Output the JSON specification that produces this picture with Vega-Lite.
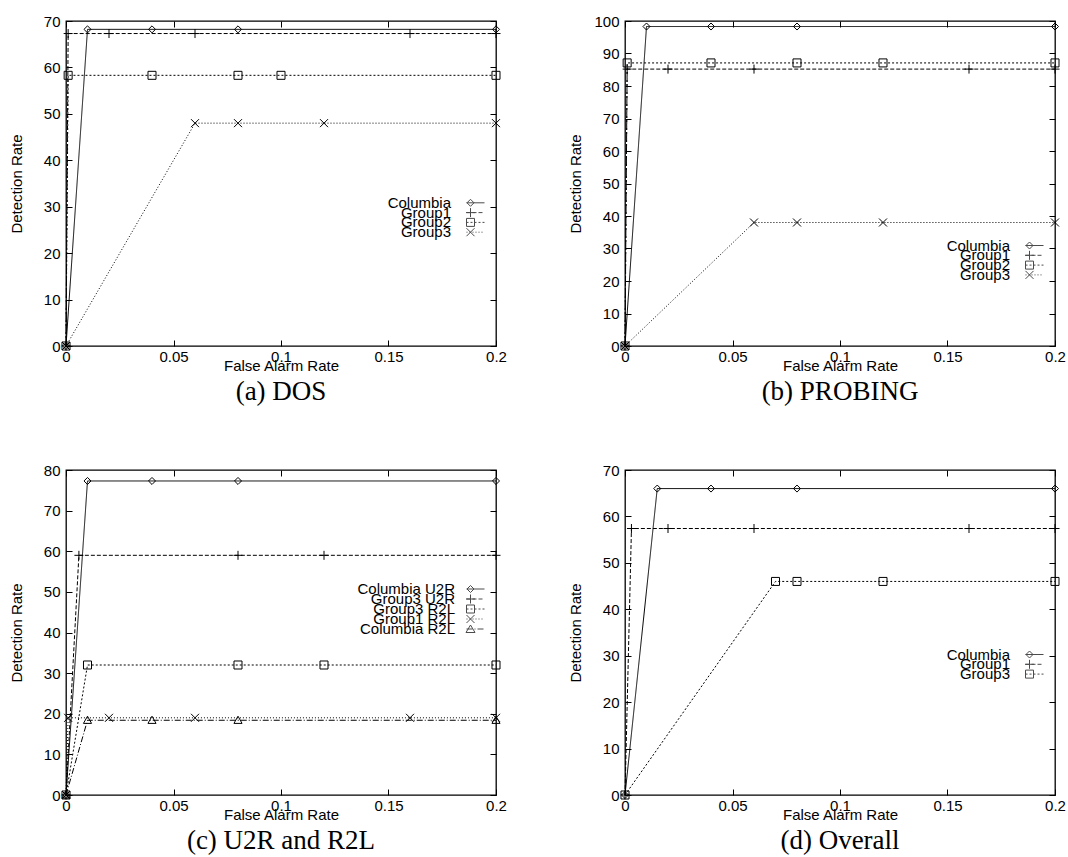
{
  "$schema": "https://vega.github.io/schema/vega-lite/v6.json",
  "background": "white",
  "padding": {"left": 8, "top": 13, "right": 2, "bottom": 2},
  "config": {
    "view": {"stroke": "black", "strokeWidth": 1.3},
    "axis": {"grid": false, "domain": false, "tickSize": -6, "tickColor": "black", "tickWidth": 1,
      "labelFont": "Liberation Sans", "labelFontSize": 15, "labelColor": "black", "labelFlush": false, "labelOverlap": false,
      "titleFont": "Liberation Sans", "titleFontSize": 15, "titleFontWeight": "normal", "titleColor": "black"},
    "axisBottom": {"labelPadding": 9, "titleX": 215, "titleY": 24, "titleBaseline": "alphabetic"},
    "axisLeft": {"labelPadding": 12, "titleX": -45, "titleY": 162.5, "titleBaseline": "alphabetic", "titleAngle": 270},
    "legend": {"symbolSize": 4, "symbolStrokeWidth": 1, "symbolStrokeColor": "black", "labelAlign": "right", "labelOffset": -32,
      "labelFont": "Liberation Sans", "labelFontSize": 15, "labelColor": "black", "padding": 0, "labelLimit": 400},
    "title": {"orient": "bottom", "font": "Liberation Serif", "fontSize": 27, "fontWeight": "normal", "color": "black", "offset": 6, "anchor": "middle"}
  },
  "columns": 2,
  "spacing": {"row": 124, "column": 129},
  "bounds": "flush",
  "resolve": {"scale": {"shape": "independent", "strokeDash": "independent"}, "legend": {"shape": "independent"}},
  "concat": [
    {
      "width": 430, "height": 325,
      "title": {"text": "(a) DOS"},
      "data": {"values": [
        {"s": "Columbia", "x": 0, "y": 0}, {"s": "Columbia", "x": 0.01, "y": 68.2}, {"s": "Columbia", "x": 0.04, "y": 68.2}, {"s": "Columbia", "x": 0.08, "y": 68.2}, {"s": "Columbia", "x": 0.2, "y": 68.2},
        {"s": "Group1", "x": 0, "y": 0}, {"s": "Group1", "x": 0.001, "y": 67.3}, {"s": "Group1", "x": 0.02, "y": 67.3}, {"s": "Group1", "x": 0.06, "y": 67.3}, {"s": "Group1", "x": 0.16, "y": 67.3}, {"s": "Group1", "x": 0.2, "y": 67.3},
        {"s": "Group2", "x": 0, "y": 0}, {"s": "Group2", "x": 0.001, "y": 58.3}, {"s": "Group2", "x": 0.04, "y": 58.3}, {"s": "Group2", "x": 0.08, "y": 58.3}, {"s": "Group2", "x": 0.1, "y": 58.3}, {"s": "Group2", "x": 0.2, "y": 58.3},
        {"s": "Group3", "x": 0, "y": 0}, {"s": "Group3", "x": 0.06, "y": 48}, {"s": "Group3", "x": 0.08, "y": 48}, {"s": "Group3", "x": 0.12, "y": 48}, {"s": "Group3", "x": 0.2, "y": 48}
      ]},
      "layer": [
        {"mark": {"type": "line", "stroke": "black", "strokeWidth": 1},
         "encoding": {
           "x": {"field": "x", "type": "quantitative", "scale": {"domain": [0, 0.2], "nice": false}, "axis": {"orient": "bottom", "values": [0, 0.05, 0.1, 0.15, 0.2], "format": "~g", "title": "False Alarm Rate"}},
           "y": {"field": "y", "type": "quantitative", "scale": {"domain": [0, 70], "nice": false}, "axis": {"orient": "left", "values": [0, 10, 20, 30, 40, 50, 60, 70], "title": "Detection Rate"}},
           "strokeDash": {"field": "s", "type": "nominal", "scale": {"domain": ["Columbia", "Group1", "Group2", "Group3"], "range": [[1, 0], [4, 2], [2, 2], [1, 2]]}, "legend": null}
         }},
        {"mark": {"type": "point", "filled": false, "stroke": "black", "strokeWidth": 1, "size": 81, "opacity": 1},
         "encoding": {
           "x": {"field": "x", "type": "quantitative", "scale": {"domain": [0, 0.2], "nice": false}, "axis": {"orient": "top", "values": [0, 0.05, 0.1, 0.15, 0.2], "labels": false, "title": null}},
           "y": {"field": "y", "type": "quantitative", "scale": {"domain": [0, 70], "nice": false}, "axis": {"orient": "right", "values": [0, 10, 20, 30, 40, 50, 60, 70], "labels": false, "title": null}},
           "shape": {"field": "s", "type": "nominal", "scale": {"domain": ["Columbia", "Group1", "Group2", "Group3"], "range": ["M0,-0.78L0.78,0L0,0.78L-0.78,0Z", "M-1,0L1,0M0,-1L0,1", "M-0.89,-0.89L0.89,-0.89L0.89,0.89L-0.89,0.89Z", "M-0.89,-0.89L0.89,0.89M-0.89,0.89L0.89,-0.89"]}, "legend": null}
         }},
        {"transform": [{"filter": "datum.x > 1"}], "mark": {"type": "point", "filled": false, "stroke": "black", "strokeWidth": 1},
         "encoding": {"x": {"field": "x", "type": "quantitative", "scale": {"domain": [0, 0.2], "nice": false}, "axis": null}, "y": {"field": "y", "type": "quantitative", "scale": {"domain": [0, 70], "nice": false}, "axis": null},
           "shape": {"field": "s", "type": "nominal", "scale": {"domain": ["Columbia"], "range": ["M-9,0L9,0M-5,-3.5L-1.5,0L-5,3.5L-8.5,0Z"]}, "legend": {"orient": "none", "legendX": 402, "legendY": 174.3, "title": null}}}},
        {"transform": [{"filter": "datum.x > 1"}], "mark": {"type": "point", "filled": false, "stroke": "black", "strokeWidth": 1},
         "encoding": {"x": {"field": "x", "type": "quantitative", "scale": {"domain": [0, 0.2], "nice": false}, "axis": null}, "y": {"field": "y", "type": "quantitative", "scale": {"domain": [0, 70], "nice": false}, "axis": null},
           "shape": {"field": "s", "type": "nominal", "scale": {"domain": ["Group1"], "range": ["M-9,0L-5,0M-3,0L1,0M3,0L7,0M-9.5,0L-0.5,0M-5,-4.5L-5,4.5"]}, "legend": {"orient": "none", "legendX": 402, "legendY": 184.1, "title": null}}}},
        {"transform": [{"filter": "datum.x > 1"}], "mark": {"type": "point", "filled": false, "stroke": "black", "strokeWidth": 1},
         "encoding": {"x": {"field": "x", "type": "quantitative", "scale": {"domain": [0, 0.2], "nice": false}, "axis": null}, "y": {"field": "y", "type": "quantitative", "scale": {"domain": [0, 70], "nice": false}, "axis": null},
           "shape": {"field": "s", "type": "nominal", "scale": {"domain": ["Group2"], "range": ["M-9,0L-7,0M-5,0L-3,0M-1,0L1,0M3,0L5,0M7,0L9,0M-9,-4L-1,-4L-1,4L-9,4Z"]}, "legend": {"orient": "none", "legendX": 402, "legendY": 193.9, "title": null}}}},
        {"transform": [{"filter": "datum.x > 1"}], "mark": {"type": "point", "filled": false, "stroke": "black", "strokeWidth": 1},
         "encoding": {"x": {"field": "x", "type": "quantitative", "scale": {"domain": [0, 0.2], "nice": false}, "axis": null}, "y": {"field": "y", "type": "quantitative", "scale": {"domain": [0, 70], "nice": false}, "axis": null},
           "shape": {"field": "s", "type": "nominal", "scale": {"domain": ["Group3"], "range": ["M-9,0L-8,0M-6,0L-5,0M-3,0L-2,0M0,0L1,0M3,0L4,0M6,0L7,0M-9,-4L-1,4M-9,4L-1,-4"]}, "legend": {"orient": "none", "legendX": 402, "legendY": 203.7, "title": null}}}}
      ],
      "resolve": {"scale": {"shape": "independent"}, "legend": {"shape": "independent"}, "axis": {"x": "independent", "y": "independent"}}
    },
    {
      "width": 430, "height": 325,
      "title": {"text": "(b) PROBING"},
      "data": {"values": [
        {"s": "Columbia", "x": 0, "y": 0}, {"s": "Columbia", "x": 0.01, "y": 98.3}, {"s": "Columbia", "x": 0.04, "y": 98.3}, {"s": "Columbia", "x": 0.08, "y": 98.3}, {"s": "Columbia", "x": 0.2, "y": 98.3},
        {"s": "Group1", "x": 0, "y": 0}, {"s": "Group1", "x": 0.001, "y": 85.2}, {"s": "Group1", "x": 0.02, "y": 85.2}, {"s": "Group1", "x": 0.06, "y": 85.2}, {"s": "Group1", "x": 0.16, "y": 85.2}, {"s": "Group1", "x": 0.2, "y": 85.2},
        {"s": "Group2", "x": 0, "y": 0}, {"s": "Group2", "x": 0.001, "y": 87.1}, {"s": "Group2", "x": 0.04, "y": 87.1}, {"s": "Group2", "x": 0.08, "y": 87.1}, {"s": "Group2", "x": 0.12, "y": 87.1}, {"s": "Group2", "x": 0.2, "y": 87.1},
        {"s": "Group3", "x": 0, "y": 0}, {"s": "Group3", "x": 0.06, "y": 38}, {"s": "Group3", "x": 0.08, "y": 38}, {"s": "Group3", "x": 0.12, "y": 38}, {"s": "Group3", "x": 0.2, "y": 38}
      ]},
      "layer": [
        {"mark": {"type": "line", "stroke": "black", "strokeWidth": 1},
         "encoding": {
           "x": {"field": "x", "type": "quantitative", "scale": {"domain": [0, 0.2], "nice": false}, "axis": {"orient": "bottom", "values": [0, 0.05, 0.1, 0.15, 0.2], "format": "~g", "title": "False Alarm Rate"}},
           "y": {"field": "y", "type": "quantitative", "scale": {"domain": [0, 100], "nice": false}, "axis": {"orient": "left", "values": [0, 10, 20, 30, 40, 50, 60, 70, 80, 90, 100], "title": "Detection Rate"}},
           "strokeDash": {"field": "s", "type": "nominal", "scale": {"domain": ["Columbia", "Group1", "Group2", "Group3"], "range": [[1, 0], [4, 2], [2, 2], [1, 2]]}, "legend": null}
         }},
        {"mark": {"type": "point", "filled": false, "stroke": "black", "strokeWidth": 1, "size": 81, "opacity": 1},
         "encoding": {
           "x": {"field": "x", "type": "quantitative", "scale": {"domain": [0, 0.2], "nice": false}, "axis": {"orient": "top", "values": [0, 0.05, 0.1, 0.15, 0.2], "labels": false, "title": null}},
           "y": {"field": "y", "type": "quantitative", "scale": {"domain": [0, 100], "nice": false}, "axis": {"orient": "right", "values": [0, 10, 20, 30, 40, 50, 60, 70, 80, 90, 100], "labels": false, "title": null}},
           "shape": {"field": "s", "type": "nominal", "scale": {"domain": ["Columbia", "Group1", "Group2", "Group3"], "range": ["M0,-0.78L0.78,0L0,0.78L-0.78,0Z", "M-1,0L1,0M0,-1L0,1", "M-0.89,-0.89L0.89,-0.89L0.89,0.89L-0.89,0.89Z", "M-0.89,-0.89L0.89,0.89M-0.89,0.89L0.89,-0.89"]}, "legend": null}
         }},
        {"transform": [{"filter": "datum.x > 1"}], "mark": {"type": "point", "filled": false, "stroke": "black", "strokeWidth": 1},
         "encoding": {"x": {"field": "x", "type": "quantitative", "scale": {"domain": [0, 0.2], "nice": false}, "axis": null}, "y": {"field": "y", "type": "quantitative", "scale": {"domain": [0, 100], "nice": false}, "axis": null},
           "shape": {"field": "s", "type": "nominal", "scale": {"domain": ["Columbia"], "range": ["M-9,0L9,0M-5,-3.5L-1.5,0L-5,3.5L-8.5,0Z"]}, "legend": {"orient": "none", "legendX": 402, "legendY": 217, "title": null}}}},
        {"transform": [{"filter": "datum.x > 1"}], "mark": {"type": "point", "filled": false, "stroke": "black", "strokeWidth": 1},
         "encoding": {"x": {"field": "x", "type": "quantitative", "scale": {"domain": [0, 0.2], "nice": false}, "axis": null}, "y": {"field": "y", "type": "quantitative", "scale": {"domain": [0, 100], "nice": false}, "axis": null},
           "shape": {"field": "s", "type": "nominal", "scale": {"domain": ["Group1"], "range": ["M-9,0L-5,0M-3,0L1,0M3,0L7,0M-9.5,0L-0.5,0M-5,-4.5L-5,4.5"]}, "legend": {"orient": "none", "legendX": 402, "legendY": 226.8, "title": null}}}},
        {"transform": [{"filter": "datum.x > 1"}], "mark": {"type": "point", "filled": false, "stroke": "black", "strokeWidth": 1},
         "encoding": {"x": {"field": "x", "type": "quantitative", "scale": {"domain": [0, 0.2], "nice": false}, "axis": null}, "y": {"field": "y", "type": "quantitative", "scale": {"domain": [0, 100], "nice": false}, "axis": null},
           "shape": {"field": "s", "type": "nominal", "scale": {"domain": ["Group2"], "range": ["M-9,0L-7,0M-5,0L-3,0M-1,0L1,0M3,0L5,0M7,0L9,0M-9,-4L-1,-4L-1,4L-9,4Z"]}, "legend": {"orient": "none", "legendX": 402, "legendY": 236.6, "title": null}}}},
        {"transform": [{"filter": "datum.x > 1"}], "mark": {"type": "point", "filled": false, "stroke": "black", "strokeWidth": 1},
         "encoding": {"x": {"field": "x", "type": "quantitative", "scale": {"domain": [0, 0.2], "nice": false}, "axis": null}, "y": {"field": "y", "type": "quantitative", "scale": {"domain": [0, 100], "nice": false}, "axis": null},
           "shape": {"field": "s", "type": "nominal", "scale": {"domain": ["Group3"], "range": ["M-9,0L-8,0M-6,0L-5,0M-3,0L-2,0M0,0L1,0M3,0L4,0M6,0L7,0M-9,-4L-1,4M-9,4L-1,-4"]}, "legend": {"orient": "none", "legendX": 402, "legendY": 246.4, "title": null}}}}
      ],
      "resolve": {"scale": {"shape": "independent"}, "legend": {"shape": "independent"}, "axis": {"x": "independent", "y": "independent"}}
    },
    {
      "width": 430, "height": 325,
      "title": {"text": "(c) U2R and R2L"},
      "data": {"values": [
        {"s": "Columbia U2R", "x": 0, "y": 0}, {"s": "Columbia U2R", "x": 0.01, "y": 77.3}, {"s": "Columbia U2R", "x": 0.04, "y": 77.3}, {"s": "Columbia U2R", "x": 0.08, "y": 77.3}, {"s": "Columbia U2R", "x": 0.2, "y": 77.3},
        {"s": "Group3 U2R", "x": 0, "y": 0}, {"s": "Group3 U2R", "x": 0.006, "y": 59}, {"s": "Group3 U2R", "x": 0.08, "y": 59}, {"s": "Group3 U2R", "x": 0.12, "y": 59}, {"s": "Group3 U2R", "x": 0.2, "y": 59},
        {"s": "Group3 R2L", "x": 0, "y": 0}, {"s": "Group3 R2L", "x": 0.01, "y": 32}, {"s": "Group3 R2L", "x": 0.08, "y": 32}, {"s": "Group3 R2L", "x": 0.12, "y": 32}, {"s": "Group3 R2L", "x": 0.2, "y": 32},
        {"s": "Group1 R2L", "x": 0, "y": 0}, {"s": "Group1 R2L", "x": 0.001, "y": 19}, {"s": "Group1 R2L", "x": 0.02, "y": 19}, {"s": "Group1 R2L", "x": 0.06, "y": 19}, {"s": "Group1 R2L", "x": 0.16, "y": 19}, {"s": "Group1 R2L", "x": 0.2, "y": 19},
        {"s": "Columbia R2L", "x": 0, "y": 0}, {"s": "Columbia R2L", "x": 0.01, "y": 18.4}, {"s": "Columbia R2L", "x": 0.04, "y": 18.4}, {"s": "Columbia R2L", "x": 0.08, "y": 18.4}, {"s": "Columbia R2L", "x": 0.2, "y": 18.4}
      ]},
      "layer": [
        {"mark": {"type": "line", "stroke": "black", "strokeWidth": 1},
         "encoding": {
           "x": {"field": "x", "type": "quantitative", "scale": {"domain": [0, 0.2], "nice": false}, "axis": {"orient": "bottom", "values": [0, 0.05, 0.1, 0.15, 0.2], "format": "~g", "title": "False Alarm Rate"}},
           "y": {"field": "y", "type": "quantitative", "scale": {"domain": [0, 80], "nice": false}, "axis": {"orient": "left", "values": [0, 10, 20, 30, 40, 50, 60, 70, 80], "title": "Detection Rate"}},
           "strokeDash": {"field": "s", "type": "nominal", "scale": {"domain": ["Columbia U2R", "Group3 U2R", "Group3 R2L", "Group1 R2L", "Columbia R2L"], "range": [[1, 0], [4, 2], [2, 2], [1, 2], [6, 2, 1, 2]]}, "legend": null}
         }},
        {"mark": {"type": "point", "filled": false, "stroke": "black", "strokeWidth": 1, "size": 81, "opacity": 1},
         "encoding": {
           "x": {"field": "x", "type": "quantitative", "scale": {"domain": [0, 0.2], "nice": false}, "axis": {"orient": "top", "values": [0, 0.05, 0.1, 0.15, 0.2], "labels": false, "title": null}},
           "y": {"field": "y", "type": "quantitative", "scale": {"domain": [0, 80], "nice": false}, "axis": {"orient": "right", "values": [0, 10, 20, 30, 40, 50, 60, 70, 80], "labels": false, "title": null}},
           "shape": {"field": "s", "type": "nominal", "scale": {"domain": ["Columbia U2R", "Group3 U2R", "Group3 R2L", "Group1 R2L", "Columbia R2L"], "range": ["M0,-0.78L0.78,0L0,0.78L-0.78,0Z", "M-1,0L1,0M0,-1L0,1", "M-0.89,-0.89L0.89,-0.89L0.89,0.89L-0.89,0.89Z", "M-0.89,-0.89L0.89,0.89M-0.89,0.89L0.89,-0.89", "M0,-0.9L0.9,0.7L-0.9,0.7Z"]}, "legend": null}
         }},
        {"transform": [{"filter": "datum.x > 1"}], "mark": {"type": "point", "filled": false, "stroke": "black", "strokeWidth": 1},
         "encoding": {"x": {"field": "x", "type": "quantitative", "scale": {"domain": [0, 0.2], "nice": false}, "axis": null}, "y": {"field": "y", "type": "quantitative", "scale": {"domain": [0, 80], "nice": false}, "axis": null},
           "shape": {"field": "s", "type": "nominal", "scale": {"domain": ["Columbia U2R"], "range": ["M-9,0L9,0M-5,-3.5L-1.5,0L-5,3.5L-8.5,0Z"]}, "legend": {"orient": "none", "legendX": 402, "legendY": 111.5, "labelOffset": -28, "title": null}}}},
        {"transform": [{"filter": "datum.x > 1"}], "mark": {"type": "point", "filled": false, "stroke": "black", "strokeWidth": 1},
         "encoding": {"x": {"field": "x", "type": "quantitative", "scale": {"domain": [0, 0.2], "nice": false}, "axis": null}, "y": {"field": "y", "type": "quantitative", "scale": {"domain": [0, 80], "nice": false}, "axis": null},
           "shape": {"field": "s", "type": "nominal", "scale": {"domain": ["Group3 U2R"], "range": ["M-9,0L-5,0M-3,0L1,0M3,0L7,0M-9.5,0L-0.5,0M-5,-4.5L-5,4.5"]}, "legend": {"orient": "none", "legendX": 402, "legendY": 121.5, "labelOffset": -28, "title": null}}}},
        {"transform": [{"filter": "datum.x > 1"}], "mark": {"type": "point", "filled": false, "stroke": "black", "strokeWidth": 1},
         "encoding": {"x": {"field": "x", "type": "quantitative", "scale": {"domain": [0, 0.2], "nice": false}, "axis": null}, "y": {"field": "y", "type": "quantitative", "scale": {"domain": [0, 80], "nice": false}, "axis": null},
           "shape": {"field": "s", "type": "nominal", "scale": {"domain": ["Group3 R2L"], "range": ["M-9,0L-7,0M-5,0L-3,0M-1,0L1,0M3,0L5,0M7,0L9,0M-9,-4L-1,-4L-1,4L-9,4Z"]}, "legend": {"orient": "none", "legendX": 402, "legendY": 131.5, "labelOffset": -28, "title": null}}}},
        {"transform": [{"filter": "datum.x > 1"}], "mark": {"type": "point", "filled": false, "stroke": "black", "strokeWidth": 1},
         "encoding": {"x": {"field": "x", "type": "quantitative", "scale": {"domain": [0, 0.2], "nice": false}, "axis": null}, "y": {"field": "y", "type": "quantitative", "scale": {"domain": [0, 80], "nice": false}, "axis": null},
           "shape": {"field": "s", "type": "nominal", "scale": {"domain": ["Group1 R2L"], "range": ["M-9,0L-8,0M-6,0L-5,0M-3,0L-2,0M0,0L1,0M3,0L4,0M6,0L7,0M-9,-4L-1,4M-9,4L-1,-4"]}, "legend": {"orient": "none", "legendX": 402, "legendY": 141.5, "labelOffset": -28, "title": null}}}},
        {"transform": [{"filter": "datum.x > 1"}], "mark": {"type": "point", "filled": false, "stroke": "black", "strokeWidth": 1},
         "encoding": {"x": {"field": "x", "type": "quantitative", "scale": {"domain": [0, 0.2], "nice": false}, "axis": null}, "y": {"field": "y", "type": "quantitative", "scale": {"domain": [0, 80], "nice": false}, "axis": null},
           "shape": {"field": "s", "type": "nominal", "scale": {"domain": ["Columbia R2L"], "range": ["M-9,0L-3,0M-1,0L0,0M2,0L8,0M-5,-4L-0.5,3.5L-9.5,3.5Z"]}, "legend": {"orient": "none", "legendX": 402, "legendY": 151.5, "labelOffset": -28, "title": null}}}}
      ],
      "resolve": {"scale": {"shape": "independent"}, "legend": {"shape": "independent"}, "axis": {"x": "independent", "y": "independent"}}
    },
    {
      "width": 430, "height": 325,
      "title": {"text": "(d) Overall"},
      "data": {"values": [
        {"s": "Columbia", "x": 0, "y": 0}, {"s": "Columbia", "x": 0.015, "y": 66}, {"s": "Columbia", "x": 0.04, "y": 66}, {"s": "Columbia", "x": 0.08, "y": 66}, {"s": "Columbia", "x": 0.2, "y": 66},
        {"s": "Group1", "x": 0, "y": 0}, {"s": "Group1", "x": 0.003, "y": 57.4}, {"s": "Group1", "x": 0.02, "y": 57.4}, {"s": "Group1", "x": 0.06, "y": 57.4}, {"s": "Group1", "x": 0.16, "y": 57.4}, {"s": "Group1", "x": 0.2, "y": 57.4},
        {"s": "Group3", "x": 0, "y": 0}, {"s": "Group3", "x": 0.07, "y": 46}, {"s": "Group3", "x": 0.08, "y": 46}, {"s": "Group3", "x": 0.12, "y": 46}, {"s": "Group3", "x": 0.2, "y": 46}
      ]},
      "layer": [
        {"mark": {"type": "line", "stroke": "black", "strokeWidth": 1},
         "encoding": {
           "x": {"field": "x", "type": "quantitative", "scale": {"domain": [0, 0.2], "nice": false}, "axis": {"orient": "bottom", "values": [0, 0.05, 0.1, 0.15, 0.2], "format": "~g", "title": "False Alarm Rate"}},
           "y": {"field": "y", "type": "quantitative", "scale": {"domain": [0, 70], "nice": false}, "axis": {"orient": "left", "values": [0, 10, 20, 30, 40, 50, 60, 70], "title": "Detection Rate"}},
           "strokeDash": {"field": "s", "type": "nominal", "scale": {"domain": ["Columbia", "Group1", "Group3"], "range": [[1, 0], [4, 2], [2, 2]]}, "legend": null}
         }},
        {"mark": {"type": "point", "filled": false, "stroke": "black", "strokeWidth": 1, "size": 81, "opacity": 1},
         "encoding": {
           "x": {"field": "x", "type": "quantitative", "scale": {"domain": [0, 0.2], "nice": false}, "axis": {"orient": "top", "values": [0, 0.05, 0.1, 0.15, 0.2], "labels": false, "title": null}},
           "y": {"field": "y", "type": "quantitative", "scale": {"domain": [0, 70], "nice": false}, "axis": {"orient": "right", "values": [0, 10, 20, 30, 40, 50, 60, 70], "labels": false, "title": null}},
           "shape": {"field": "s", "type": "nominal", "scale": {"domain": ["Columbia", "Group1", "Group3"], "range": ["M0,-0.78L0.78,0L0,0.78L-0.78,0Z", "M-1,0L1,0M0,-1L0,1", "M-0.89,-0.89L0.89,-0.89L0.89,0.89L-0.89,0.89Z"]}, "legend": null}
         }},
        {"transform": [{"filter": "datum.x > 1"}], "mark": {"type": "point", "filled": false, "stroke": "black", "strokeWidth": 1},
         "encoding": {"x": {"field": "x", "type": "quantitative", "scale": {"domain": [0, 0.2], "nice": false}, "axis": null}, "y": {"field": "y", "type": "quantitative", "scale": {"domain": [0, 70], "nice": false}, "axis": null},
           "shape": {"field": "s", "type": "nominal", "scale": {"domain": ["Columbia"], "range": ["M-9,0L9,0M-5,-3.5L-1.5,0L-5,3.5L-8.5,0Z"]}, "legend": {"orient": "none", "legendX": 402, "legendY": 177, "title": null}}}},
        {"transform": [{"filter": "datum.x > 1"}], "mark": {"type": "point", "filled": false, "stroke": "black", "strokeWidth": 1},
         "encoding": {"x": {"field": "x", "type": "quantitative", "scale": {"domain": [0, 0.2], "nice": false}, "axis": null}, "y": {"field": "y", "type": "quantitative", "scale": {"domain": [0, 70], "nice": false}, "axis": null},
           "shape": {"field": "s", "type": "nominal", "scale": {"domain": ["Group1"], "range": ["M-9,0L-5,0M-3,0L1,0M3,0L7,0M-9.5,0L-0.5,0M-5,-4.5L-5,4.5"]}, "legend": {"orient": "none", "legendX": 402, "legendY": 186.8, "title": null}}}},
        {"transform": [{"filter": "datum.x > 1"}], "mark": {"type": "point", "filled": false, "stroke": "black", "strokeWidth": 1},
         "encoding": {"x": {"field": "x", "type": "quantitative", "scale": {"domain": [0, 0.2], "nice": false}, "axis": null}, "y": {"field": "y", "type": "quantitative", "scale": {"domain": [0, 70], "nice": false}, "axis": null},
           "shape": {"field": "s", "type": "nominal", "scale": {"domain": ["Group3"], "range": ["M-9,0L-7,0M-5,0L-3,0M-1,0L1,0M3,0L5,0M7,0L9,0M-9,-4L-1,-4L-1,4L-9,4Z"]}, "legend": {"orient": "none", "legendX": 402, "legendY": 196.6, "title": null}}}}
      ],
      "resolve": {"scale": {"shape": "independent"}, "legend": {"shape": "independent"}, "axis": {"x": "independent", "y": "independent"}}
    }
  ]
}
